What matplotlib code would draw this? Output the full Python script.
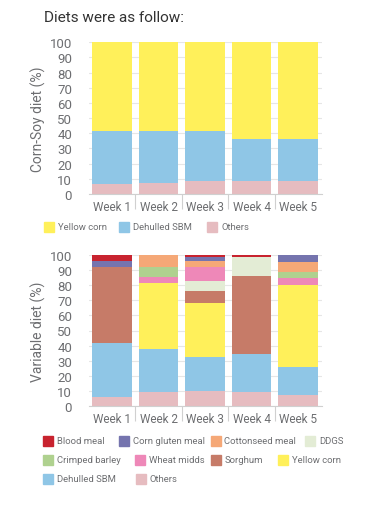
import numpy as np
import matplotlib.pyplot as plt
from matplotlib.patches import Rectangle

plt.rcParams['font.family'] = ['Roboto', 'DejaVu Sans']

weeks = ['Week 1', 'Week 2', 'Week 3', 'Week 4', 'Week 5']

# corn-soy diet (%), stacked bottom -> top
cs_names = ['Others', 'Dehulled SBM', 'Yellow corn']
cs_others = [6.6, 7.5, 8.5, 8.5, 8.5]
cs_sbm = [34.9, 34.0, 33.0, 28.0, 28.0]
cs_corn = [58.5, 58.5, 58.5, 63.5, 63.5]

# variable diet (%), stacked bottom -> top
var_names = ['Others', 'Dehulled SBM', 'Yellow corn', 'Sorghum', 'DDGS',
             'Wheat midds', 'Crimped barley', 'Cottonseed meal',
             'Corn gluten meal', 'Blood meal']
var_others = [6.4, 9.2, 10.1, 9.2, 7.7]
var_sbm = [35.4, 28.6, 22.2, 25.3, 18.5]
var_corn = [0.0, 43.7, 35.6, 0.0, 53.8]
var_sorghum = [49.9, 0.0, 8.4, 51.7, 0.0]
var_ddgs = [0.0, 0.0, 6.1, 12.3, 0.0]
var_midds = [0.0, 4.0, 9.3, 0.0, 4.4]
var_barley = [0.0, 6.2, 0.0, 0.0, 4.4]
var_cotton = [0.0, 8.3, 4.4, 0.0, 6.2]
var_gluten = [3.9, 0.0, 2.2, 0.0, 5.0]
var_blood = [4.4, 0.0, 1.7, 1.5, 0.0]

colors = {
    'Blood meal': '#c8232f',
    'Corn gluten meal': '#7574ae',
    'Cottonseed meal': '#f5a877',
    'DDGS': '#e3ecd5',
    'Crimped barley': '#afd18f',
    'Wheat midds': '#ee88b8',
    'Sorghum': '#c67b68',
    'Yellow corn': '#fff05a',
    'Dehulled SBM': '#8fc6e6',
    'Others': '#e6bcc0',
}

legend1 = ['Yellow corn', 'Dehulled SBM', 'Others']
legend2 = ['Blood meal', 'Corn gluten meal', 'Cottonseed meal', 'DDGS',
           'Crimped barley', 'Wheat midds', 'Sorghum', 'Yellow corn',
           'Dehulled SBM', 'Others']
# legend item positions in pixels (x of swatch, y centre)
leg1_pos = [(44, 228), (119, 228), (207, 228)]
leg2_pos = [(43, 441.5), (119, 441.5), (210.5, 441.5), (305, 441.5),
            (43, 460.5), (135, 460.5), (210.5, 460.5), (278, 460.5),
            (43, 479.5), (136, 479.5)]

W, H = 372, 506
grey = '#6d6e71'
fig = plt.figure(figsize=(W / 100, H / 100), dpi=100)


def style(ax, ylabel):
    ax.set_xlim(-0.5, 4.5)
    ax.set_ylim(0, 100)
    ax.set_yticks(np.arange(0, 101, 10))
    ax.set_xticks(range(5))
    ax.set_xticklabels(weeks)
    ax.set_xticks([0.5, 1.5, 2.5, 3.5], minor=True)
    ax.tick_params(axis='x', which='major', length=0, pad=4, labelsize=8.5, labelcolor=grey)
    ax.tick_params(axis='x', which='minor', length=11, color='#d0d0d0', width=0.8)
    ax.tick_params(axis='y', length=0, pad=12, labelsize=9.5, labelcolor=grey)
    for s in ['top', 'right', 'left']:
        ax.spines[s].set_visible(False)
    ax.spines['bottom'].set_color('#d0d0d0')
    ax.spines['bottom'].set_linewidth(0.8)
    ax.grid(axis='y', color='#e6e6e6', linewidth=0.8)
    ax.set_axisbelow(True)
    ax.set_ylabel(ylabel, fontsize=10, color=grey, labelpad=3)


def stack(ax, names, series):
    x = np.arange(len(weeks))
    bottom = np.zeros(len(weeks))
    for name, vals in zip(names, series):
        vals = np.array(vals)
        ax.bar(x, vals, 0.85, bottom=bottom, color=colors[name], linewidth=0, zorder=2)
        bottom += vals


def legend(labels, positions):
    for lab, (px, py) in zip(labels, positions):
        fig.patches.append(Rectangle((px / W, 1 - (py + 5) / H), 10 / W, 10 / H,
                                     transform=fig.transFigure, color=colors[lab]))
        fig.text((px + 14) / W, 1 - py / H, lab, fontsize=6.8, color=grey, va='center')


ax1 = fig.add_axes([88.8 / W, 1 - 195 / H, 232.7 / W, 151.7 / H])
stack(ax1, cs_names, [cs_others, cs_sbm, cs_corn])
style(ax1, 'Corn-Soy diet (%)')

ax2 = fig.add_axes([88.8 / W, 1 - 407.3 / H, 232.7 / W, 151.6 / H])
stack(ax2, var_names, [var_others, var_sbm, var_corn, var_sorghum, var_ddgs,
                       var_midds, var_barley, var_cotton, var_gluten, var_blood])
style(ax2, 'Variable diet (%)')

fig.text(44 / W, 1 - 18 / H, 'Diets were as follow:', fontsize=11, color='#333333', va='center')
legend(legend1, leg1_pos)
legend(legend2, leg2_pos)

fig.savefig('out.png', dpi=100, facecolor='white')
